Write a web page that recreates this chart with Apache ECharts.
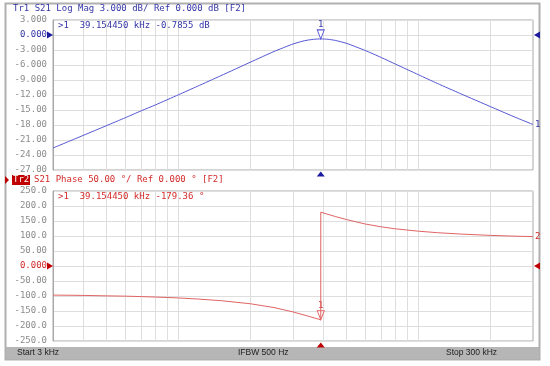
<!DOCTYPE html>
<html><head><meta charset="utf-8">
<script src="https://cdn.jsdelivr.net/npm/echarts@6/dist/echarts.min.js"></script>
<style>html,body{margin:0;padding:0;background:#fff}#c{width:550px;height:366px}</style>
</head><body><div id="c"></div>
<script>
// ---- data ----
const magFreqKHz = [3,4,5,6,7,8,10,12,15,20,25,30,33,35,37,39.15445,42,45,50,60,70,80,100,120,150,200,250,300];
const magDb      = [-22.6,-20.1,-18.15,-16.55,-15.15,-14.0,-11.95,-10.25,-8.15,-5.4,-3.3,-1.8,-1.22,-0.98,-0.84,-0.7855,-0.86,-1.08,-1.65,-3.1,-4.5,-5.8,-7.95,-9.7,-11.75,-14.35,-16.35,-17.9];
const phaseFreqKHz = [3,4,5,6,7,8,10,12,15,20,25,30,35,39.15445,39.16,45,50,60,70,80,100,120,150,200,250,300];
const phaseDeg     = [-97,-98,-99.5,-100.5,-102,-103.5,-106.5,-110,-115.5,-126,-138.5,-153,-168,-179.36,179.4,165,155,140,130.5,124,116,111,106.5,102,99.5,98];
const markerFreqKHz = 39.15445;
const markerMag = -0.7855;
const markerPhase = -179.36;
const gridFreqKHz = [4,5,6,7,8,9,10,20,30,40,50,60,70,80,90,100,200];
const magTicks = [3,0,-3,-6,-9,-12,-15,-18,-21,-24,-27];
const magTickLabels = ['3.000','0.000','-3.000','-6.000','-9.000','-12.00','-15.00','-18.00','-21.00','-24.00','-27.00'];
const phaseTicks = [250,200,150,100,50,0,-50,-100,-150,-200,-250];
const phaseTickLabels = ['250.0','200.0','150.0','100.0','50.00','0.000','-50.00','-100.0','-150.0','-200.0','-250.0'];
const header1 = 'Tr1 S21 Log Mag 3.000 dB/ Ref 0.000 dB [F2]';
const header2a = 'Tr2';
const header2b = 'S21 Phase 50.00 °/ Ref 0.000 ° [F2]';
const readout1 = '>1  39.154450 kHz -0.7855 dB';
const readout2 = '>1  39.154450 kHz -179.36 °';
const statusTexts = ['Start 3 kHz','IFBW 500 Hz','Stop 300 kHz'];

// ---- styles ----
const BLUE = '#5656d4', BLUE_T = '#3535a8', BLUE_D = '#1c1ca0';
const RED = '#e06464', RED_T = '#d42a2a', RED_D = '#c00000';
const MONO = '"DejaVu Sans Mono", monospace';
const GRIDC = '#dedede';

function labFmt(ticks, labels){
  return function(v){
    let i = ticks.findIndex(t => Math.abs(t - v) < 1e-6);
    if (i < 0) return '';
    return v === 0 ? '{z|' + labels[i] + '}' : labels[i];
  };
}
function yAxis(gi, min, max, itv, ticks, labels, zc){
  return {type:'value', gridIndex:gi, min:min, max:max, interval:itv,
    axisLine:{show:true, lineStyle:{color:'#a8a8a8'}}, axisTick:{show:false},
    splitLine:{show:true, lineStyle:{color:GRIDC, width:1}},
    axisLabel:{formatter:labFmt(ticks, labels), color:'#8c8c8c', fontFamily:MONO, fontSize:9, margin:6,
      rich:{z:{color:zc, fontFamily:MONO, fontSize:9}}}};
}
function xAxis(gi){
  return {type:'log', logBase:10, gridIndex:gi, min:3, max:300,
    axisLine:{show:false}, axisTick:{show:false}, axisLabel:{show:false},
    splitLine:{show:false}, minorSplitLine:{show:false}};
}
function gridLines(){
  return {silent:true, symbol:['none','none'], label:{show:false},
    lineStyle:{color:GRIDC, type:'solid', width:1}, animation:false,
    data: gridFreqKHz.map(f => ({xAxis:f}))};
}
function tri(coord, rot, off, color, size){
  return {coord:coord, symbol:'triangle', symbolRotate:rot, symbolSize:size||[7,6], symbolOffset:off,
    itemStyle:{color:color}, label:{show:false}};
}
const markTri = 'path://M0,0 L10,0 L5,12 Z';

const option = {
  animation:false,
  grid:[
    {left:53, top:20, width:480, height:150, show:true, borderColor:'#a8a8a8', borderWidth:1, backgroundColor:'#fff'},
    {left:53, top:191, width:480, height:150, show:true, borderColor:'#a8a8a8', borderWidth:1, backgroundColor:'#fff'}
  ],
  xAxis:[xAxis(0), xAxis(1)],
  yAxis:[yAxis(0,-27,3,3,magTicks,magTickLabels,BLUE_T), yAxis(1,-250,250,50,phaseTicks,phaseTickLabels,RED_T)],
  series:[
    {type:'line', xAxisIndex:0, yAxisIndex:0, data:magFreqKHz.map((f,i)=>[f,magDb[i]]),
      showSymbol:false, smooth:0.2, lineStyle:{color:BLUE, width:1}, z:5,
      endLabel:{show:true, formatter:'1', color:BLUE_T, fontFamily:MONO, fontSize:9, distance:2},
      markLine:gridLines(),
      markPoint:{animation:false, data:[
        {coord:[markerFreqKHz, markerMag], symbol:markTri, symbolSize:[7,9], symbolOffset:[0,'-50%'],
          itemStyle:{color:'#fff', borderColor:BLUE, borderWidth:1},
          label:{show:true, formatter:'1', position:'top', distance:0, color:BLUE_T, fontFamily:MONO, fontSize:9}},
        tri([3,0], -90, [-3,0], BLUE_D),
        tri([300,0], 90, [4,0], BLUE_D),
        tri([markerFreqKHz,-27], 0, [0,4], BLUE_D, [8,5])
      ]}},
    {type:'line', xAxisIndex:1, yAxisIndex:1, data:phaseFreqKHz.map((f,i)=>[f,phaseDeg[i]]),
      showSymbol:false, lineStyle:{color:RED, width:1}, z:5,
      endLabel:{show:true, formatter:'2', color:RED_T, fontFamily:MONO, fontSize:9, distance:2},
      markLine:gridLines(),
      markPoint:{animation:false, data:[
        {coord:[markerFreqKHz, markerPhase], symbol:markTri, symbolSize:[7,9], symbolOffset:[0,'-50%'],
          itemStyle:{color:'#fff', borderColor:RED, borderWidth:1},
          label:{show:true, formatter:'1', position:'top', distance:0, color:RED_T, fontFamily:MONO, fontSize:9}},
        tri([3,0], -90, [-3,0], RED_D),
        tri([300,0], 90, [4,0], RED_D),
        tri([markerFreqKHz,-250], 0, [0,4], RED_D, [8,5])
      ]}}
  ],
  graphic:[
    {type:'rect', shape:{x:5.5, y:3.5, width:534, height:356}, style:{fill:'none', stroke:'#b0b0b0', lineWidth:2}, z:0},
    {type:'rect', shape:{x:6, y:347, width:533, height:12}, style:{fill:'#b6b6b6'}, z:1},
    {type:'text', left:13, top:4, style:{text:header1, fill:BLUE_T, font:'9px ' + MONO}},
    {type:'polygon', shape:{points:[[5,176],[9,180],[5,184]]}, style:{fill:RED_D}},
    {type:'rect', shape:{x:12, y:175, width:18, height:10}, style:{fill:RED_D}},
    {type:'text', left:13, top:175.5, style:{text:header2a, fill:'#fff', font:'9px ' + MONO}},
    {type:'text', left:34, top:175.5, style:{text:header2b, fill:RED_T, font:'9px ' + MONO}},
    {type:'text', left:58, top:21, style:{text:readout1, fill:BLUE_T, font:'9px ' + MONO}, z:10},
    {type:'text', left:58, top:192, style:{text:readout2, fill:RED_T, font:'9px ' + MONO}, z:10},
    {type:'text', left:17, top:348, style:{text:statusTexts[0], fill:'#222', font:'8.5px "Liberation Sans"'}, z:5},
    {type:'text', left:238, top:348, style:{text:statusTexts[1], fill:'#222', font:'8.5px "Liberation Sans"'}, z:5},
    {type:'text', left:446, top:348, style:{text:statusTexts[2], fill:'#222', font:'8.5px "Liberation Sans"'}, z:5}
  ]
};
const chart = echarts.init(document.getElementById('c'), null, {renderer:'canvas'});
chart.setOption(option);
</script></body></html>
